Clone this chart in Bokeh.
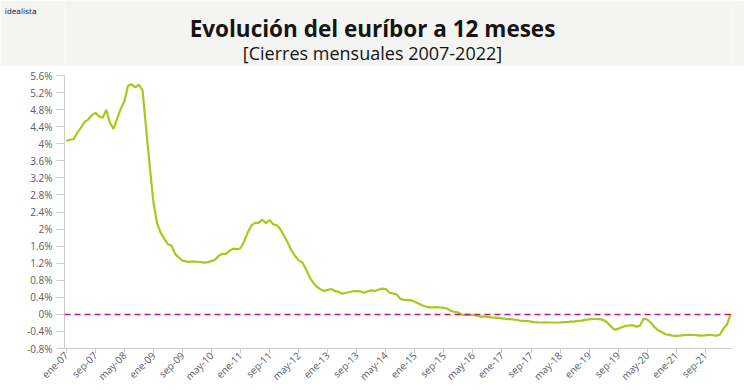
import math
from bokeh.plotting import figure
from bokeh.layouts import column
from bokeh.models import FixedTicker, Span, Range1d, LinearAxis
from bokeh.core.properties import value
from bokeh.embed import file_html
from bokeh.resources import INLINE

# ---------------- data ----------------
brand_text = "idealista"
title_text = "Evolución del euríbor a 12 meses"
subtitle_text = "[Cierres mensuales 2007-2022]"

month_names = ["ene", "feb", "mar", "abr", "may", "jun", "jul", "ago", "sep", "oct", "nov", "dic"]
years = list(range(2007, 2023))

euribor_2007 = [4.064, 4.094, 4.106, 4.253, 4.373, 4.505, 4.564, 4.666, 4.725, 4.647, 4.607, 4.793]
euribor_2008 = [4.498, 4.349, 4.590, 4.820, 4.994, 5.361, 5.393, 5.323, 5.384, 5.248, 4.350, 3.452]
euribor_2009 = [2.622, 2.135, 1.909, 1.771, 1.644, 1.610, 1.412, 1.334, 1.261, 1.243, 1.231, 1.242]
euribor_2010 = [1.232, 1.225, 1.215, 1.225, 1.249, 1.281, 1.373, 1.421, 1.420, 1.495, 1.541, 1.526]
euribor_2011 = [1.550, 1.714, 1.924, 2.086, 2.147, 2.144, 2.220, 2.140, 2.210, 2.110, 2.090, 1.990]
euribor_2012 = [1.837, 1.678, 1.499, 1.368, 1.266, 1.219, 1.061, 0.877, 0.740, 0.650, 0.588, 0.549]
euribor_2013 = [0.575, 0.594, 0.545, 0.528, 0.484, 0.507, 0.525, 0.542, 0.543, 0.541, 0.506, 0.543]
euribor_2014 = [0.562, 0.549, 0.577, 0.604, 0.592, 0.513, 0.488, 0.469, 0.362, 0.338, 0.335, 0.329]
euribor_2015 = [0.298, 0.255, 0.212, 0.180, 0.165, 0.163, 0.168, 0.161, 0.154, 0.128, 0.079, 0.059]
euribor_2016 = [0.042, -0.008, -0.012, -0.010, -0.013, -0.028, -0.056, -0.048, -0.057, -0.069, -0.074, -0.080]
euribor_2017 = [-0.095, -0.106, -0.110, -0.119, -0.127, -0.149, -0.154, -0.156, -0.168, -0.180, -0.189, -0.190]
euribor_2018 = [-0.189, -0.191, -0.191, -0.190, -0.188, -0.181, -0.180, -0.169, -0.166, -0.154, -0.147, -0.129]
euribor_2019 = [-0.116, -0.108, -0.109, -0.112, -0.134, -0.190, -0.283, -0.356, -0.339, -0.304, -0.271, -0.261]
euribor_2020 = [-0.253, -0.288, -0.266, -0.100, -0.120, -0.190, -0.300, -0.370, -0.415, -0.466, -0.481, -0.497]
euribor_2021 = [-0.505, -0.501, -0.487, -0.484, -0.481, -0.484, -0.491, -0.498, -0.492, -0.477, -0.487, -0.502]
euribor_2022 = [-0.477, -0.335, -0.237, 0.013]

values = (euribor_2007 + euribor_2008 + euribor_2009 + euribor_2010 + euribor_2011 +
          euribor_2012 + euribor_2013 + euribor_2014 + euribor_2015 + euribor_2016 +
          euribor_2017 + euribor_2018 + euribor_2019 + euribor_2020 + euribor_2021 +
          euribor_2022)
dates = [f"{m}-{str(y)[2:]}" for y in years for m in month_names][:len(values)]
x_idx = list(range(len(values)))

x_tick_labels = ["ene-07", "sep-07", "may-08", "ene-09", "sep-09", "may-10", "ene-11", "sep-11",
                 "may-12", "ene-13", "sep-13", "may-14", "ene-15", "sep-15", "may-16", "ene-17",
                 "sep-17", "may-18", "ene-19", "sep-19", "may-20", "ene-21", "sep-21"]
x_tick_pos = [dates.index(lbl) for lbl in x_tick_labels]

y_ticks = [-0.8, -0.4, 0.0, 0.4, 0.8, 1.2, 1.6, 2.0, 2.4, 2.8, 3.2, 3.6, 4.0, 4.4, 4.8, 5.2, 5.6]
y_tick_labels = ["-0.8%", "-0.4%", "0%", "0.4%", "0.8%", "1.2%", "1.6%", "2%", "2.4%", "2.8%",
                 "3.2%", "3.6%", "4%", "4.4%", "4.8%", "5.2%", "5.6%"]

# ---------------- layout constants ----------------
W = 744
HEADER_H = 66
CHART_H = 324
LEFT, RIGHT = 64, 12
BAND = "#f4f4f3"

# ---------------- header ----------------
header = figure(width=W, height=HEADER_H, x_range=Range1d(LEFT, W - RIGHT),
                y_range=Range1d(0, HEADER_H), toolbar_location=None, output_backend="svg",
                min_border_left=LEFT, min_border_right=RIGHT, min_border_top=0,
                min_border_bottom=0, x_axis_location=None, y_axis_location=None,
                background_fill_color=BAND, border_fill_color=BAND, outline_line_color=None)
header.grid.visible = False
header.text(x=[W / 2], y=[HEADER_H - 28], text=[title_text], text_font=value("Open Sans"),
            text_font_style="bold", text_font_size="22.5px", text_align="center",
            text_baseline="alphabetic", text_color="#151515")
header.text(x=[W / 2], y=[HEADER_H - 52], text=[subtitle_text], text_font=value("Open Sans"),
            text_font_size="18px", text_align="center",
            text_baseline="alphabetic", text_color="#151515")

# brand mark drawn as the single label of an invisible axis in the left border
brand_y = HEADER_H - 11
brand_axis = LinearAxis(ticker=FixedTicker(ticks=[brand_y]),
                        major_label_overrides={brand_y: brand_text},
                        axis_line_color=None, major_tick_line_color=None,
                        minor_tick_line_color=None, major_tick_in=0, major_tick_out=0,
                        major_label_standoff=28,
                        major_label_text_font="DejaVu Sans",
                        major_label_text_font_size="7.5px",
                        major_label_text_color="#1b1b3a")
header.add_layout(brand_axis, "left")

# ---------------- chart ----------------
p = figure(width=W, height=CHART_H, x_range=Range1d(-0.5, len(values) - 0.5),
           y_range=Range1d(-0.8, 5.6), toolbar_location=None, output_backend="svg",
           min_border_left=LEFT, min_border_right=RIGHT, min_border_top=9, min_border_bottom=42,
           outline_line_color=None, background_fill_color="white", border_fill_color="white")
p.grid.visible = False

p.line(x_idx, values, line_color="#a8c91c", line_width=2.2)
p.add_layout(Span(location=0, dimension="width", line_color="#c2187a",
                  line_dash="6 4", line_width=1.5))

for ax in (p.xaxis[0], p.yaxis[0]):
    ax.axis_line_color = "#cccccc"
    ax.major_tick_line_color = "#cccccc"
    ax.minor_tick_line_color = None
    ax.major_tick_in = 0
    ax.major_label_text_font = "Open Sans"
    ax.major_label_text_font_size = "10px"
    ax.major_label_text_color = "#585c66"

p.yaxis.ticker = FixedTicker(ticks=y_ticks)
p.yaxis.major_label_overrides = dict(zip(y_ticks, y_tick_labels))
p.yaxis.major_tick_out = 8
p.yaxis.major_label_standoff = 4

p.xaxis.ticker = FixedTicker(ticks=x_tick_pos)
p.xaxis.major_label_overrides = dict(zip(x_tick_pos, x_tick_labels))
p.xaxis.major_label_orientation = math.pi / 4
p.xaxis.major_tick_out = 5
p.xaxis.major_label_standoff = 0

layout = column(header, p, spacing=0)
open("out.html", "w").write(file_html(layout, INLINE))
